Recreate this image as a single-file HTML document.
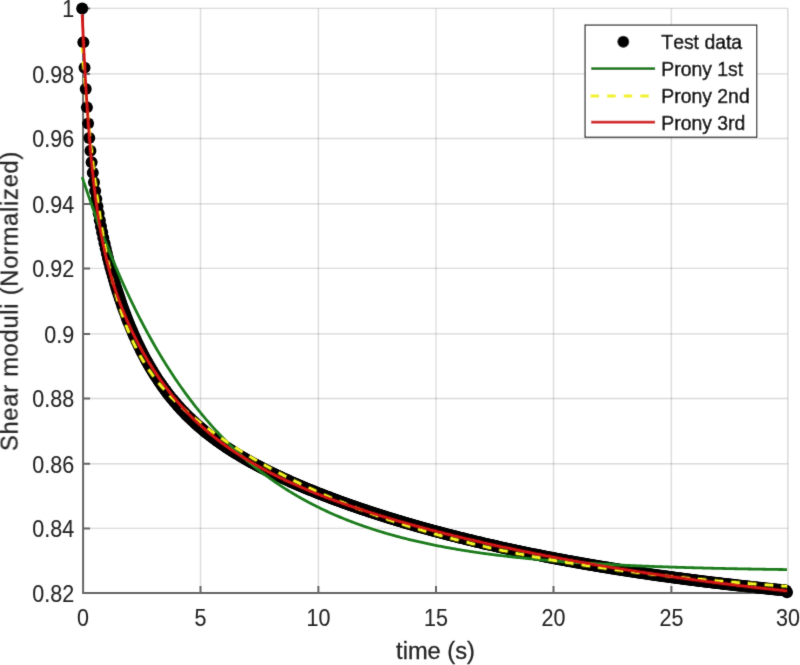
<!DOCTYPE html>
<html><head><meta charset="utf-8"><title>Shear moduli plot</title>
<style>
html,body{margin:0;padding:0;background:#fff;}
body{width:800px;height:665px;overflow:hidden;}
svg{display:block;font-kerning:none;font-family:"Liberation Sans",Arial,sans-serif;}
</style></head><body>
<svg width="800" height="665" viewBox="0 0 800 665">
<defs><filter id="soft" x="0" y="0" width="800" height="665" filterUnits="userSpaceOnUse"><feConvolveMatrix order="3" kernelMatrix="0.0100 0.0800 0.0100 0.0800 0.6400 0.0800 0.0100 0.0800 0.0100" divisor="1" edgeMode="none"/></filter></defs>
<rect width="800" height="665" fill="#fff"/>
<g filter="url(#soft)">
<path d="M83.1 8.4H787.9M83.1 73.9H787.9M83.1 138.5H787.9M83.1 203.9H787.9M83.1 268.4H787.9M83.1 333.9H787.9M83.1 398.5H787.9M83.1 463.7H787.9M83.1 528.4H787.9" stroke="#262626" stroke-opacity="0.16" stroke-width="1.4" fill="none"/>
<path d="M200.5 8.4V593.1M318.4 8.4V593.1M436.0 8.4V593.1M553.5 8.4V593.1M671.4 8.4V593.1M787.9 8.4V593.1" stroke="#262626" stroke-opacity="0.16" stroke-width="1.4" fill="none"/>
<path d="M83.1 8.4V593.1H787.9M83.1 8.4h7M83.1 73.9h7M83.1 138.5h7M83.1 203.9h7M83.1 268.4h7M83.1 333.9h7M83.1 398.5h7M83.1 463.7h7M83.1 528.4h7M200.5 593.1v-7M318.4 593.1v-7M436.0 593.1v-7M553.5 593.1v-7M671.4 593.1v-7M787.9 593.1v-7" stroke="#666666" stroke-width="2" fill="none"/>
<g font-size="21.5" fill="#262626" stroke="#262626" stroke-width="0.1"><text transform="translate(74.2 9.00) scale(1 1.08)" y="7.7" text-anchor="end">1</text><text transform="translate(74.2 74.50) scale(1 1.08)" y="7.7" text-anchor="end">0.98</text><text transform="translate(74.2 139.10) scale(1 1.08)" y="7.7" text-anchor="end">0.96</text><text transform="translate(74.2 204.50) scale(1 1.08)" y="7.7" text-anchor="end">0.94</text><text transform="translate(74.2 269.00) scale(1 1.08)" y="7.7" text-anchor="end">0.92</text><text transform="translate(74.2 334.50) scale(1 1.08)" y="7.7" text-anchor="end">0.9</text><text transform="translate(74.2 399.10) scale(1 1.08)" y="7.7" text-anchor="end">0.88</text><text transform="translate(74.2 464.30) scale(1 1.08)" y="7.7" text-anchor="end">0.86</text><text transform="translate(74.2 529.00) scale(1 1.08)" y="7.7" text-anchor="end">0.84</text><text transform="translate(74.2 593.70) scale(1 1.08)" y="7.7" text-anchor="end">0.82</text><text transform="translate(83.1 617.40) scale(1 1.08)" y="7.7" text-anchor="middle">0</text><text transform="translate(200.5 617.40) scale(1 1.08)" y="7.7" text-anchor="middle">5</text><text transform="translate(318.4 617.40) scale(1 1.08)" y="7.7" text-anchor="middle">10</text><text transform="translate(436.0 617.40) scale(1 1.08)" y="7.7" text-anchor="middle">15</text><text transform="translate(553.5 617.40) scale(1 1.08)" y="7.7" text-anchor="middle">20</text><text transform="translate(671.4 617.40) scale(1 1.08)" y="7.7" text-anchor="middle">25</text><text transform="translate(787.9 617.40) scale(1 1.08)" y="7.7" text-anchor="middle">30</text></g>
<text x="435.5" y="658.8" text-anchor="middle" font-size="23.65" fill="#262626" stroke="#262626" stroke-width="0.3">time (s)</text>
<text transform="translate(17.6 301) rotate(-90)" text-anchor="middle" font-size="23.65" letter-spacing="0.76" fill="#262626" stroke="#262626" stroke-width="0.3">Shear moduli (Normalized)</text>
<g fill="#000"><circle cx="82.20" cy="8.39" r="6.0"/><circle cx="83.37" cy="42.29" r="6.0"/><circle cx="84.55" cy="67.66" r="6.0"/><circle cx="85.72" cy="88.93" r="6.0"/><circle cx="86.90" cy="107.37" r="6.0"/><circle cx="88.07" cy="123.58" r="6.0"/><circle cx="89.25" cy="137.95" r="6.0"/><circle cx="90.42" cy="150.77" r="6.0"/><circle cx="91.60" cy="162.30" r="6.0"/><circle cx="92.77" cy="172.74" r="6.0"/><circle cx="93.95" cy="182.27" r="6.0"/><circle cx="95.12" cy="191.01" r="6.0"/><circle cx="96.30" cy="199.08" r="6.0"/><circle cx="97.47" cy="206.59" r="6.0"/><circle cx="98.65" cy="213.61" r="6.0"/><circle cx="99.82" cy="220.21" r="6.0"/><circle cx="100.99" cy="226.44" r="6.0"/><circle cx="102.17" cy="232.35" r="6.0"/><circle cx="103.34" cy="237.98" r="6.0"/><circle cx="104.52" cy="243.36" r="6.0"/><circle cx="105.69" cy="248.51" r="6.0"/><circle cx="106.87" cy="253.46" r="6.0"/><circle cx="108.04" cy="258.23" r="6.0"/><circle cx="109.22" cy="262.83" r="6.0"/><circle cx="110.39" cy="267.29" r="6.0"/><circle cx="111.57" cy="271.60" r="6.0"/><circle cx="112.74" cy="275.78" r="6.0"/><circle cx="113.92" cy="279.84" r="6.0"/><circle cx="115.09" cy="283.79" r="6.0"/><circle cx="116.26" cy="287.63" r="6.0"/><circle cx="117.44" cy="291.36" r="6.0"/><circle cx="118.61" cy="295.01" r="6.0"/><circle cx="119.79" cy="298.56" r="6.0"/><circle cx="120.96" cy="302.02" r="6.0"/><circle cx="122.14" cy="305.40" r="6.0"/><circle cx="123.31" cy="308.70" r="6.0"/><circle cx="124.49" cy="311.92" r="6.0"/><circle cx="125.66" cy="315.07" r="6.0"/><circle cx="126.84" cy="318.14" r="6.0"/><circle cx="128.01" cy="321.15" r="6.0"/><circle cx="129.19" cy="324.09" r="6.0"/><circle cx="130.36" cy="326.96" r="6.0"/><circle cx="131.54" cy="329.77" r="6.0"/><circle cx="132.71" cy="332.52" r="6.0"/><circle cx="133.88" cy="335.21" r="6.0"/><circle cx="135.06" cy="337.85" r="6.0"/><circle cx="136.23" cy="340.42" r="6.0"/><circle cx="137.41" cy="342.95" r="6.0"/><circle cx="138.58" cy="345.42" r="6.0"/><circle cx="139.76" cy="347.84" r="6.0"/><circle cx="140.93" cy="350.21" r="6.0"/><circle cx="142.11" cy="352.53" r="6.0"/><circle cx="143.28" cy="354.81" r="6.0"/><circle cx="144.46" cy="357.03" r="6.0"/><circle cx="145.63" cy="359.22" r="6.0"/><circle cx="146.81" cy="361.36" r="6.0"/><circle cx="147.98" cy="363.46" r="6.0"/><circle cx="149.16" cy="365.52" r="6.0"/><circle cx="150.33" cy="367.54" r="6.0"/><circle cx="151.50" cy="369.52" r="6.0"/><circle cx="152.68" cy="371.46" r="6.0"/><circle cx="153.85" cy="373.36" r="6.0"/><circle cx="155.03" cy="375.23" r="6.0"/><circle cx="156.20" cy="377.07" r="6.0"/><circle cx="157.38" cy="378.87" r="6.0"/><circle cx="158.55" cy="380.64" r="6.0"/><circle cx="159.73" cy="382.37" r="6.0"/><circle cx="160.90" cy="384.08" r="6.0"/><circle cx="162.08" cy="385.75" r="6.0"/><circle cx="163.25" cy="387.39" r="6.0"/><circle cx="164.43" cy="389.01" r="6.0"/><circle cx="165.60" cy="390.60" r="6.0"/><circle cx="166.77" cy="392.16" r="6.0"/><circle cx="167.95" cy="393.69" r="6.0"/><circle cx="169.12" cy="395.20" r="6.0"/><circle cx="170.30" cy="396.68" r="6.0"/><circle cx="171.47" cy="398.13" r="6.0"/><circle cx="172.65" cy="399.56" r="6.0"/><circle cx="173.82" cy="400.97" r="6.0"/><circle cx="175.00" cy="402.36" r="6.0"/><circle cx="176.17" cy="403.72" r="6.0"/><circle cx="177.35" cy="405.06" r="6.0"/><circle cx="178.52" cy="406.39" r="6.0"/><circle cx="179.70" cy="407.69" r="6.0"/><circle cx="180.87" cy="408.97" r="6.0"/><circle cx="182.05" cy="410.23" r="6.0"/><circle cx="183.22" cy="411.47" r="6.0"/><circle cx="184.39" cy="412.69" r="6.0"/><circle cx="185.57" cy="413.89" r="6.0"/><circle cx="186.74" cy="415.08" r="6.0"/><circle cx="187.92" cy="416.25" r="6.0"/><circle cx="189.09" cy="417.40" r="6.0"/><circle cx="190.27" cy="418.54" r="6.0"/><circle cx="191.44" cy="419.66" r="6.0"/><circle cx="192.62" cy="420.76" r="6.0"/><circle cx="193.79" cy="421.85" r="6.0"/><circle cx="194.97" cy="422.93" r="6.0"/><circle cx="196.14" cy="423.99" r="6.0"/><circle cx="197.32" cy="425.03" r="6.0"/><circle cx="198.49" cy="426.06" r="6.0"/><circle cx="199.66" cy="427.08" r="6.0"/><circle cx="200.84" cy="428.09" r="6.0"/><circle cx="202.01" cy="429.08" r="6.0"/><circle cx="203.19" cy="430.06" r="6.0"/><circle cx="204.36" cy="431.02" r="6.0"/><circle cx="205.54" cy="431.98" r="6.0"/><circle cx="206.71" cy="432.92" r="6.0"/><circle cx="207.89" cy="433.86" r="6.0"/><circle cx="209.06" cy="434.78" r="6.0"/><circle cx="210.24" cy="435.69" r="6.0"/><circle cx="211.41" cy="436.59" r="6.0"/><circle cx="212.59" cy="437.48" r="6.0"/><circle cx="213.76" cy="438.36" r="6.0"/><circle cx="214.94" cy="439.22" r="6.0"/><circle cx="216.11" cy="440.08" r="6.0"/><circle cx="217.28" cy="440.93" r="6.0"/><circle cx="218.46" cy="441.78" r="6.0"/><circle cx="219.63" cy="442.61" r="6.0"/><circle cx="220.81" cy="443.43" r="6.0"/><circle cx="221.98" cy="444.25" r="6.0"/><circle cx="223.16" cy="445.05" r="6.0"/><circle cx="224.33" cy="445.85" r="6.0"/><circle cx="225.51" cy="446.64" r="6.0"/><circle cx="226.68" cy="447.42" r="6.0"/><circle cx="227.86" cy="448.19" r="6.0"/><circle cx="229.03" cy="448.96" r="6.0"/><circle cx="230.21" cy="449.72" r="6.0"/><circle cx="231.38" cy="450.47" r="6.0"/><circle cx="232.56" cy="451.22" r="6.0"/><circle cx="233.73" cy="451.96" r="6.0"/><circle cx="234.90" cy="452.69" r="6.0"/><circle cx="236.08" cy="453.41" r="6.0"/><circle cx="237.25" cy="454.13" r="6.0"/><circle cx="238.43" cy="454.84" r="6.0"/><circle cx="239.60" cy="455.55" r="6.0"/><circle cx="240.78" cy="456.25" r="6.0"/><circle cx="241.95" cy="456.94" r="6.0"/><circle cx="243.13" cy="457.63" r="6.0"/><circle cx="244.30" cy="458.31" r="6.0"/><circle cx="245.48" cy="458.98" r="6.0"/><circle cx="246.65" cy="459.66" r="6.0"/><circle cx="247.83" cy="460.32" r="6.0"/><circle cx="249.00" cy="460.98" r="6.0"/><circle cx="250.17" cy="461.64" r="6.0"/><circle cx="251.35" cy="462.29" r="6.0"/><circle cx="252.52" cy="462.93" r="6.0"/><circle cx="253.70" cy="463.57" r="6.0"/><circle cx="254.87" cy="464.20" r="6.0"/><circle cx="256.05" cy="464.83" r="6.0"/><circle cx="257.22" cy="465.46" r="6.0"/><circle cx="258.40" cy="466.08" r="6.0"/><circle cx="259.57" cy="466.70" r="6.0"/><circle cx="260.75" cy="467.31" r="6.0"/><circle cx="261.92" cy="467.92" r="6.0"/><circle cx="263.10" cy="468.52" r="6.0"/><circle cx="264.27" cy="469.12" r="6.0"/><circle cx="265.45" cy="469.72" r="6.0"/><circle cx="266.62" cy="470.31" r="6.0"/><circle cx="267.79" cy="470.90" r="6.0"/><circle cx="268.97" cy="471.48" r="6.0"/><circle cx="270.14" cy="472.06" r="6.0"/><circle cx="271.32" cy="472.64" r="6.0"/><circle cx="272.49" cy="473.21" r="6.0"/><circle cx="273.67" cy="473.78" r="6.0"/><circle cx="274.84" cy="474.34" r="6.0"/><circle cx="276.02" cy="474.90" r="6.0"/><circle cx="277.19" cy="475.46" r="6.0"/><circle cx="278.37" cy="476.02" r="6.0"/><circle cx="279.54" cy="476.57" r="6.0"/><circle cx="280.72" cy="477.12" r="6.0"/><circle cx="281.89" cy="477.66" r="6.0"/><circle cx="283.07" cy="478.21" r="6.0"/><circle cx="284.24" cy="478.74" r="6.0"/><circle cx="285.41" cy="479.28" r="6.0"/><circle cx="286.59" cy="479.81" r="6.0"/><circle cx="287.76" cy="480.34" r="6.0"/><circle cx="288.94" cy="480.87" r="6.0"/><circle cx="290.11" cy="481.39" r="6.0"/><circle cx="291.29" cy="481.91" r="6.0"/><circle cx="292.46" cy="482.43" r="6.0"/><circle cx="293.64" cy="482.95" r="6.0"/><circle cx="294.81" cy="483.46" r="6.0"/><circle cx="295.99" cy="483.97" r="6.0"/><circle cx="297.16" cy="484.48" r="6.0"/><circle cx="298.34" cy="484.98" r="6.0"/><circle cx="299.51" cy="485.48" r="6.0"/><circle cx="300.68" cy="485.98" r="6.0"/><circle cx="301.86" cy="486.48" r="6.0"/><circle cx="303.03" cy="486.97" r="6.0"/><circle cx="304.21" cy="487.47" r="6.0"/><circle cx="305.38" cy="487.96" r="6.0"/><circle cx="306.56" cy="488.44" r="6.0"/><circle cx="307.73" cy="488.93" r="6.0"/><circle cx="308.91" cy="489.41" r="6.0"/><circle cx="310.08" cy="489.89" r="6.0"/><circle cx="311.26" cy="490.37" r="6.0"/><circle cx="312.43" cy="490.84" r="6.0"/><circle cx="313.61" cy="491.32" r="6.0"/><circle cx="314.78" cy="491.79" r="6.0"/><circle cx="315.96" cy="492.25" r="6.0"/><circle cx="317.13" cy="492.72" r="6.0"/><circle cx="318.30" cy="493.19" r="6.0"/><circle cx="319.48" cy="493.65" r="6.0"/><circle cx="320.65" cy="494.11" r="6.0"/><circle cx="321.83" cy="494.57" r="6.0"/><circle cx="323.00" cy="495.02" r="6.0"/><circle cx="324.18" cy="495.48" r="6.0"/><circle cx="325.35" cy="495.93" r="6.0"/><circle cx="326.53" cy="496.38" r="6.0"/><circle cx="327.70" cy="496.83" r="6.0"/><circle cx="328.88" cy="497.27" r="6.0"/><circle cx="330.05" cy="497.72" r="6.0"/><circle cx="331.23" cy="498.16" r="6.0"/><circle cx="332.40" cy="498.60" r="6.0"/><circle cx="333.58" cy="499.04" r="6.0"/><circle cx="334.75" cy="499.47" r="6.0"/><circle cx="335.92" cy="499.91" r="6.0"/><circle cx="337.10" cy="500.34" r="6.0"/><circle cx="338.27" cy="500.77" r="6.0"/><circle cx="339.45" cy="501.20" r="6.0"/><circle cx="340.62" cy="501.63" r="6.0"/><circle cx="341.80" cy="502.05" r="6.0"/><circle cx="342.97" cy="502.48" r="6.0"/><circle cx="344.15" cy="502.90" r="6.0"/><circle cx="345.32" cy="503.32" r="6.0"/><circle cx="346.50" cy="503.74" r="6.0"/><circle cx="347.67" cy="504.16" r="6.0"/><circle cx="348.85" cy="504.57" r="6.0"/><circle cx="350.02" cy="504.99" r="6.0"/><circle cx="351.19" cy="505.40" r="6.0"/><circle cx="352.37" cy="505.81" r="6.0"/><circle cx="353.54" cy="506.22" r="6.0"/><circle cx="354.72" cy="506.62" r="6.0"/><circle cx="355.89" cy="507.03" r="6.0"/><circle cx="357.07" cy="507.43" r="6.0"/><circle cx="358.24" cy="507.84" r="6.0"/><circle cx="359.42" cy="508.24" r="6.0"/><circle cx="360.59" cy="508.64" r="6.0"/><circle cx="361.77" cy="509.03" r="6.0"/><circle cx="362.94" cy="509.43" r="6.0"/><circle cx="364.12" cy="509.82" r="6.0"/><circle cx="365.29" cy="510.22" r="6.0"/><circle cx="366.47" cy="510.61" r="6.0"/><circle cx="367.64" cy="511.00" r="6.0"/><circle cx="368.81" cy="511.39" r="6.0"/><circle cx="369.99" cy="511.77" r="6.0"/><circle cx="371.16" cy="512.16" r="6.0"/><circle cx="372.34" cy="512.54" r="6.0"/><circle cx="373.51" cy="512.93" r="6.0"/><circle cx="374.69" cy="513.31" r="6.0"/><circle cx="375.86" cy="513.69" r="6.0"/><circle cx="377.04" cy="514.07" r="6.0"/><circle cx="378.21" cy="514.44" r="6.0"/><circle cx="379.39" cy="514.82" r="6.0"/><circle cx="380.56" cy="515.19" r="6.0"/><circle cx="381.74" cy="515.57" r="6.0"/><circle cx="382.91" cy="515.94" r="6.0"/><circle cx="384.09" cy="516.31" r="6.0"/><circle cx="385.26" cy="516.68" r="6.0"/><circle cx="386.43" cy="517.04" r="6.0"/><circle cx="387.61" cy="517.41" r="6.0"/><circle cx="388.78" cy="517.78" r="6.0"/><circle cx="389.96" cy="518.14" r="6.0"/><circle cx="391.13" cy="518.50" r="6.0"/><circle cx="392.31" cy="518.86" r="6.0"/><circle cx="393.48" cy="519.22" r="6.0"/><circle cx="394.66" cy="519.58" r="6.0"/><circle cx="395.83" cy="519.94" r="6.0"/><circle cx="397.01" cy="520.29" r="6.0"/><circle cx="398.18" cy="520.65" r="6.0"/><circle cx="399.36" cy="521.00" r="6.0"/><circle cx="400.53" cy="521.35" r="6.0"/><circle cx="401.70" cy="521.70" r="6.0"/><circle cx="402.88" cy="522.05" r="6.0"/><circle cx="404.05" cy="522.40" r="6.0"/><circle cx="405.23" cy="522.75" r="6.0"/><circle cx="406.40" cy="523.09" r="6.0"/><circle cx="407.58" cy="523.43" r="6.0"/><circle cx="408.75" cy="523.78" r="6.0"/><circle cx="409.93" cy="524.12" r="6.0"/><circle cx="411.10" cy="524.46" r="6.0"/><circle cx="412.28" cy="524.80" r="6.0"/><circle cx="413.45" cy="525.14" r="6.0"/><circle cx="414.63" cy="525.47" r="6.0"/><circle cx="415.80" cy="525.81" r="6.0"/><circle cx="416.98" cy="526.14" r="6.0"/><circle cx="418.15" cy="526.48" r="6.0"/><circle cx="419.32" cy="526.81" r="6.0"/><circle cx="420.50" cy="527.14" r="6.0"/><circle cx="421.67" cy="527.47" r="6.0"/><circle cx="422.85" cy="527.80" r="6.0"/><circle cx="424.02" cy="528.13" r="6.0"/><circle cx="425.20" cy="528.45" r="6.0"/><circle cx="426.37" cy="528.78" r="6.0"/><circle cx="427.55" cy="529.10" r="6.0"/><circle cx="428.72" cy="529.43" r="6.0"/><circle cx="429.90" cy="529.75" r="6.0"/><circle cx="431.07" cy="530.07" r="6.0"/><circle cx="432.25" cy="530.39" r="6.0"/><circle cx="433.42" cy="530.71" r="6.0"/><circle cx="434.59" cy="531.02" r="6.0"/><circle cx="435.77" cy="531.34" r="6.0"/><circle cx="436.94" cy="531.66" r="6.0"/><circle cx="438.12" cy="531.97" r="6.0"/><circle cx="439.29" cy="532.28" r="6.0"/><circle cx="440.47" cy="532.60" r="6.0"/><circle cx="441.64" cy="532.91" r="6.0"/><circle cx="442.82" cy="533.22" r="6.0"/><circle cx="443.99" cy="533.52" r="6.0"/><circle cx="445.17" cy="533.83" r="6.0"/><circle cx="446.34" cy="534.14" r="6.0"/><circle cx="447.52" cy="534.44" r="6.0"/><circle cx="448.69" cy="534.75" r="6.0"/><circle cx="449.87" cy="535.05" r="6.0"/><circle cx="451.04" cy="535.35" r="6.0"/><circle cx="452.21" cy="535.66" r="6.0"/><circle cx="453.39" cy="535.96" r="6.0"/><circle cx="454.56" cy="536.26" r="6.0"/><circle cx="455.74" cy="536.55" r="6.0"/><circle cx="456.91" cy="536.85" r="6.0"/><circle cx="458.09" cy="537.15" r="6.0"/><circle cx="459.26" cy="537.44" r="6.0"/><circle cx="460.44" cy="537.74" r="6.0"/><circle cx="461.61" cy="538.03" r="6.0"/><circle cx="462.79" cy="538.32" r="6.0"/><circle cx="463.96" cy="538.61" r="6.0"/><circle cx="465.14" cy="538.90" r="6.0"/><circle cx="466.31" cy="539.19" r="6.0"/><circle cx="467.49" cy="539.48" r="6.0"/><circle cx="468.66" cy="539.77" r="6.0"/><circle cx="469.83" cy="540.05" r="6.0"/><circle cx="471.01" cy="540.34" r="6.0"/><circle cx="472.18" cy="540.62" r="6.0"/><circle cx="473.36" cy="540.91" r="6.0"/><circle cx="474.53" cy="541.19" r="6.0"/><circle cx="475.71" cy="541.47" r="6.0"/><circle cx="476.88" cy="541.75" r="6.0"/><circle cx="478.06" cy="542.03" r="6.0"/><circle cx="479.23" cy="542.31" r="6.0"/><circle cx="480.41" cy="542.59" r="6.0"/><circle cx="481.58" cy="542.86" r="6.0"/><circle cx="482.76" cy="543.14" r="6.0"/><circle cx="483.93" cy="543.41" r="6.0"/><circle cx="485.10" cy="543.69" r="6.0"/><circle cx="486.28" cy="543.96" r="6.0"/><circle cx="487.45" cy="544.23" r="6.0"/><circle cx="488.63" cy="544.50" r="6.0"/><circle cx="489.80" cy="544.77" r="6.0"/><circle cx="490.98" cy="545.04" r="6.0"/><circle cx="492.15" cy="545.31" r="6.0"/><circle cx="493.33" cy="545.58" r="6.0"/><circle cx="494.50" cy="545.84" r="6.0"/><circle cx="495.68" cy="546.11" r="6.0"/><circle cx="496.85" cy="546.37" r="6.0"/><circle cx="498.03" cy="546.64" r="6.0"/><circle cx="499.20" cy="546.90" r="6.0"/><circle cx="500.38" cy="547.16" r="6.0"/><circle cx="501.55" cy="547.42" r="6.0"/><circle cx="502.72" cy="547.68" r="6.0"/><circle cx="503.90" cy="547.94" r="6.0"/><circle cx="505.07" cy="548.20" r="6.0"/><circle cx="506.25" cy="548.46" r="6.0"/><circle cx="507.42" cy="548.71" r="6.0"/><circle cx="508.60" cy="548.97" r="6.0"/><circle cx="509.77" cy="549.22" r="6.0"/><circle cx="510.95" cy="549.48" r="6.0"/><circle cx="512.12" cy="549.73" r="6.0"/><circle cx="513.30" cy="549.98" r="6.0"/><circle cx="514.47" cy="550.23" r="6.0"/><circle cx="515.65" cy="550.48" r="6.0"/><circle cx="516.82" cy="550.73" r="6.0"/><circle cx="518.00" cy="550.98" r="6.0"/><circle cx="519.17" cy="551.23" r="6.0"/><circle cx="520.34" cy="551.48" r="6.0"/><circle cx="521.52" cy="551.72" r="6.0"/><circle cx="522.69" cy="551.97" r="6.0"/><circle cx="523.87" cy="552.21" r="6.0"/><circle cx="525.04" cy="552.46" r="6.0"/><circle cx="526.22" cy="552.70" r="6.0"/><circle cx="527.39" cy="552.94" r="6.0"/><circle cx="528.57" cy="553.18" r="6.0"/><circle cx="529.74" cy="553.43" r="6.0"/><circle cx="530.92" cy="553.66" r="6.0"/><circle cx="532.09" cy="553.90" r="6.0"/><circle cx="533.27" cy="554.14" r="6.0"/><circle cx="534.44" cy="554.38" r="6.0"/><circle cx="535.61" cy="554.62" r="6.0"/><circle cx="536.79" cy="554.85" r="6.0"/><circle cx="537.96" cy="555.09" r="6.0"/><circle cx="539.14" cy="555.32" r="6.0"/><circle cx="540.31" cy="555.55" r="6.0"/><circle cx="541.49" cy="555.79" r="6.0"/><circle cx="542.66" cy="556.02" r="6.0"/><circle cx="543.84" cy="556.25" r="6.0"/><circle cx="545.01" cy="556.48" r="6.0"/><circle cx="546.19" cy="556.71" r="6.0"/><circle cx="547.36" cy="556.94" r="6.0"/><circle cx="548.54" cy="557.16" r="6.0"/><circle cx="549.71" cy="557.39" r="6.0"/><circle cx="550.89" cy="557.62" r="6.0"/><circle cx="552.06" cy="557.84" r="6.0"/><circle cx="553.23" cy="558.07" r="6.0"/><circle cx="554.41" cy="558.29" r="6.0"/><circle cx="555.58" cy="558.51" r="6.0"/><circle cx="556.76" cy="558.74" r="6.0"/><circle cx="557.93" cy="558.96" r="6.0"/><circle cx="559.11" cy="559.18" r="6.0"/><circle cx="560.28" cy="559.40" r="6.0"/><circle cx="561.46" cy="559.62" r="6.0"/><circle cx="562.63" cy="559.84" r="6.0"/><circle cx="563.81" cy="560.06" r="6.0"/><circle cx="564.98" cy="560.27" r="6.0"/><circle cx="566.16" cy="560.49" r="6.0"/><circle cx="567.33" cy="560.71" r="6.0"/><circle cx="568.51" cy="560.92" r="6.0"/><circle cx="569.68" cy="561.14" r="6.0"/><circle cx="570.85" cy="561.35" r="6.0"/><circle cx="572.03" cy="561.56" r="6.0"/><circle cx="573.20" cy="561.77" r="6.0"/><circle cx="574.38" cy="561.99" r="6.0"/><circle cx="575.55" cy="562.20" r="6.0"/><circle cx="576.73" cy="562.41" r="6.0"/><circle cx="577.90" cy="562.62" r="6.0"/><circle cx="579.08" cy="562.82" r="6.0"/><circle cx="580.25" cy="563.03" r="6.0"/><circle cx="581.43" cy="563.24" r="6.0"/><circle cx="582.60" cy="563.45" r="6.0"/><circle cx="583.78" cy="563.65" r="6.0"/><circle cx="584.95" cy="563.86" r="6.0"/><circle cx="586.12" cy="564.06" r="6.0"/><circle cx="587.30" cy="564.26" r="6.0"/><circle cx="588.47" cy="564.47" r="6.0"/><circle cx="589.65" cy="564.67" r="6.0"/><circle cx="590.82" cy="564.87" r="6.0"/><circle cx="592.00" cy="565.07" r="6.0"/><circle cx="593.17" cy="565.27" r="6.0"/><circle cx="594.35" cy="565.47" r="6.0"/><circle cx="595.52" cy="565.67" r="6.0"/><circle cx="596.70" cy="565.87" r="6.0"/><circle cx="597.87" cy="566.07" r="6.0"/><circle cx="599.05" cy="566.26" r="6.0"/><circle cx="600.22" cy="566.46" r="6.0"/><circle cx="601.40" cy="566.66" r="6.0"/><circle cx="602.57" cy="566.85" r="6.0"/><circle cx="603.74" cy="567.05" r="6.0"/><circle cx="604.92" cy="567.24" r="6.0"/><circle cx="606.09" cy="567.43" r="6.0"/><circle cx="607.27" cy="567.62" r="6.0"/><circle cx="608.44" cy="567.82" r="6.0"/><circle cx="609.62" cy="568.01" r="6.0"/><circle cx="610.79" cy="568.20" r="6.0"/><circle cx="611.97" cy="568.39" r="6.0"/><circle cx="613.14" cy="568.58" r="6.0"/><circle cx="614.32" cy="568.77" r="6.0"/><circle cx="615.49" cy="568.95" r="6.0"/><circle cx="616.67" cy="569.14" r="6.0"/><circle cx="617.84" cy="569.33" r="6.0"/><circle cx="619.02" cy="569.51" r="6.0"/><circle cx="620.19" cy="569.70" r="6.0"/><circle cx="621.36" cy="569.88" r="6.0"/><circle cx="622.54" cy="570.07" r="6.0"/><circle cx="623.71" cy="570.25" r="6.0"/><circle cx="624.89" cy="570.43" r="6.0"/><circle cx="626.06" cy="570.62" r="6.0"/><circle cx="627.24" cy="570.80" r="6.0"/><circle cx="628.41" cy="570.98" r="6.0"/><circle cx="629.59" cy="571.16" r="6.0"/><circle cx="630.76" cy="571.34" r="6.0"/><circle cx="631.94" cy="571.52" r="6.0"/><circle cx="633.11" cy="571.70" r="6.0"/><circle cx="634.29" cy="571.87" r="6.0"/><circle cx="635.46" cy="572.05" r="6.0"/><circle cx="636.63" cy="572.23" r="6.0"/><circle cx="637.81" cy="572.40" r="6.0"/><circle cx="638.98" cy="572.58" r="6.0"/><circle cx="640.16" cy="572.75" r="6.0"/><circle cx="641.33" cy="572.93" r="6.0"/><circle cx="642.51" cy="573.10" r="6.0"/><circle cx="643.68" cy="573.28" r="6.0"/><circle cx="644.86" cy="573.45" r="6.0"/><circle cx="646.03" cy="573.62" r="6.0"/><circle cx="647.21" cy="573.79" r="6.0"/><circle cx="648.38" cy="573.96" r="6.0"/><circle cx="649.56" cy="574.13" r="6.0"/><circle cx="650.73" cy="574.30" r="6.0"/><circle cx="651.91" cy="574.47" r="6.0"/><circle cx="653.08" cy="574.64" r="6.0"/><circle cx="654.25" cy="574.81" r="6.0"/><circle cx="655.43" cy="574.98" r="6.0"/><circle cx="656.60" cy="575.14" r="6.0"/><circle cx="657.78" cy="575.31" r="6.0"/><circle cx="658.95" cy="575.48" r="6.0"/><circle cx="660.13" cy="575.64" r="6.0"/><circle cx="661.30" cy="575.81" r="6.0"/><circle cx="662.48" cy="575.97" r="6.0"/><circle cx="663.65" cy="576.13" r="6.0"/><circle cx="664.83" cy="576.30" r="6.0"/><circle cx="666.00" cy="576.46" r="6.0"/><circle cx="667.18" cy="576.62" r="6.0"/><circle cx="668.35" cy="576.78" r="6.0"/><circle cx="669.52" cy="576.94" r="6.0"/><circle cx="670.70" cy="577.10" r="6.0"/><circle cx="671.87" cy="577.26" r="6.0"/><circle cx="673.05" cy="577.42" r="6.0"/><circle cx="674.22" cy="577.58" r="6.0"/><circle cx="675.40" cy="577.74" r="6.0"/><circle cx="676.57" cy="577.90" r="6.0"/><circle cx="677.75" cy="578.05" r="6.0"/><circle cx="678.92" cy="578.21" r="6.0"/><circle cx="680.10" cy="578.37" r="6.0"/><circle cx="681.27" cy="578.52" r="6.0"/><circle cx="682.45" cy="578.68" r="6.0"/><circle cx="683.62" cy="578.83" r="6.0"/><circle cx="684.80" cy="578.98" r="6.0"/><circle cx="685.97" cy="579.14" r="6.0"/><circle cx="687.14" cy="579.29" r="6.0"/><circle cx="688.32" cy="579.44" r="6.0"/><circle cx="689.49" cy="579.59" r="6.0"/><circle cx="690.67" cy="579.75" r="6.0"/><circle cx="691.84" cy="579.90" r="6.0"/><circle cx="693.02" cy="580.05" r="6.0"/><circle cx="694.19" cy="580.20" r="6.0"/><circle cx="695.37" cy="580.35" r="6.0"/><circle cx="696.54" cy="580.49" r="6.0"/><circle cx="697.72" cy="580.64" r="6.0"/><circle cx="698.89" cy="580.79" r="6.0"/><circle cx="700.07" cy="580.94" r="6.0"/><circle cx="701.24" cy="581.08" r="6.0"/><circle cx="702.42" cy="581.23" r="6.0"/><circle cx="703.59" cy="581.38" r="6.0"/><circle cx="704.76" cy="581.52" r="6.0"/><circle cx="705.94" cy="581.67" r="6.0"/><circle cx="707.11" cy="581.81" r="6.0"/><circle cx="708.29" cy="581.95" r="6.0"/><circle cx="709.46" cy="582.10" r="6.0"/><circle cx="710.64" cy="582.24" r="6.0"/><circle cx="711.81" cy="582.38" r="6.0"/><circle cx="712.99" cy="582.53" r="6.0"/><circle cx="714.16" cy="582.67" r="6.0"/><circle cx="715.34" cy="582.81" r="6.0"/><circle cx="716.51" cy="582.95" r="6.0"/><circle cx="717.69" cy="583.09" r="6.0"/><circle cx="718.86" cy="583.23" r="6.0"/><circle cx="720.03" cy="583.37" r="6.0"/><circle cx="721.21" cy="583.51" r="6.0"/><circle cx="722.38" cy="583.64" r="6.0"/><circle cx="723.56" cy="583.78" r="6.0"/><circle cx="724.73" cy="583.92" r="6.0"/><circle cx="725.91" cy="584.05" r="6.0"/><circle cx="727.08" cy="584.19" r="6.0"/><circle cx="728.26" cy="584.33" r="6.0"/><circle cx="729.43" cy="584.46" r="6.0"/><circle cx="730.61" cy="584.60" r="6.0"/><circle cx="731.78" cy="584.73" r="6.0"/><circle cx="732.96" cy="584.87" r="6.0"/><circle cx="734.13" cy="585.00" r="6.0"/><circle cx="735.31" cy="585.13" r="6.0"/><circle cx="736.48" cy="585.26" r="6.0"/><circle cx="737.65" cy="585.40" r="6.0"/><circle cx="738.83" cy="585.53" r="6.0"/><circle cx="740.00" cy="585.66" r="6.0"/><circle cx="741.18" cy="585.79" r="6.0"/><circle cx="742.35" cy="585.92" r="6.0"/><circle cx="743.53" cy="586.05" r="6.0"/><circle cx="744.70" cy="586.18" r="6.0"/><circle cx="745.88" cy="586.31" r="6.0"/><circle cx="747.05" cy="586.44" r="6.0"/><circle cx="748.23" cy="586.57" r="6.0"/><circle cx="749.40" cy="586.69" r="6.0"/><circle cx="750.58" cy="586.82" r="6.0"/><circle cx="751.75" cy="586.95" r="6.0"/><circle cx="752.93" cy="587.08" r="6.0"/><circle cx="754.10" cy="587.20" r="6.0"/><circle cx="755.27" cy="587.33" r="6.0"/><circle cx="756.45" cy="587.45" r="6.0"/><circle cx="757.62" cy="587.58" r="6.0"/><circle cx="758.80" cy="587.70" r="6.0"/><circle cx="759.97" cy="587.83" r="6.0"/><circle cx="761.15" cy="587.95" r="6.0"/><circle cx="762.32" cy="588.07" r="6.0"/><circle cx="763.50" cy="588.19" r="6.0"/><circle cx="764.67" cy="588.32" r="6.0"/><circle cx="765.85" cy="588.44" r="6.0"/><circle cx="767.02" cy="588.56" r="6.0"/><circle cx="768.20" cy="588.68" r="6.0"/><circle cx="769.37" cy="588.80" r="6.0"/><circle cx="770.54" cy="588.92" r="6.0"/><circle cx="771.72" cy="589.04" r="6.0"/><circle cx="772.89" cy="589.16" r="6.0"/><circle cx="774.07" cy="589.28" r="6.0"/><circle cx="775.24" cy="589.40" r="6.0"/><circle cx="776.42" cy="589.52" r="6.0"/><circle cx="777.59" cy="589.64" r="6.0"/><circle cx="778.77" cy="589.75" r="6.0"/><circle cx="779.94" cy="589.87" r="6.0"/><circle cx="781.12" cy="589.99" r="6.0"/><circle cx="782.29" cy="590.10" r="6.0"/><circle cx="783.47" cy="590.22" r="6.0"/><circle cx="784.64" cy="590.33" r="6.0"/><circle cx="785.82" cy="590.45" r="6.0"/><circle cx="786.99" cy="592.26" r="6.0"/></g>
<polyline points="82.20,177.11 82.28,177.34 82.36,177.58 82.44,177.82 82.51,178.06 82.59,178.30 82.67,178.53 82.75,178.77 82.83,179.01 82.91,179.25 82.99,179.48 83.06,179.72 83.14,179.96 83.22,180.19 83.30,180.43 83.38,180.67 83.46,180.90 83.54,181.14 83.61,181.37 83.69,181.61 83.77,181.85 83.85,182.08 83.93,182.32 84.01,182.55 84.09,182.79 84.16,183.02 84.24,183.26 84.32,183.49 84.40,183.73 84.48,183.96 84.56,184.19 84.64,184.43 84.71,184.66 84.79,184.90 84.87,185.13 84.95,185.36 85.03,185.60 85.11,185.83 85.19,186.06 85.26,186.30 85.34,186.53 85.42,186.76 85.50,186.99 85.58,187.23 85.66,187.46 85.74,187.69 85.81,187.92 85.89,188.15 85.97,188.39 86.05,188.62 86.13,188.85 86.21,189.08 86.29,189.31 86.36,189.54 86.44,189.77 86.52,190.00 86.60,190.23 86.68,190.46 86.76,190.69 86.84,190.92 86.91,191.15 86.99,191.38 87.07,191.61 87.15,191.84 87.23,192.07 87.31,192.30 87.39,192.53 87.46,192.76 87.54,192.99 87.62,193.22 87.70,193.45 87.78,193.67 87.86,193.90 87.94,194.13 88.01,194.36 88.09,194.59 88.17,194.81 88.25,195.04 88.33,195.27 88.41,195.50 88.49,195.72 88.56,195.95 88.64,196.18 88.72,196.41 88.80,196.63 88.88,196.86 88.96,197.08 89.04,197.31 89.11,197.54 89.19,197.76 89.27,197.99 89.35,198.21 89.43,198.44 89.51,198.67 89.59,198.89 89.66,199.12 89.74,199.34 89.82,199.57 89.90,199.79 89.98,200.02 90.06,200.24 90.14,200.46 90.21,200.69 90.29,200.91 90.37,201.14 90.45,201.36 90.53,201.58 90.61,201.81 90.69,202.03 90.76,202.25 90.84,202.48 90.92,202.70 91.00,202.92 91.08,203.15 91.16,203.37 91.24,203.59 91.31,203.81 91.39,204.04 91.47,204.26 91.55,204.48 91.63,204.70 91.71,204.92 91.79,205.14 91.86,205.37 91.94,205.59 92.02,205.81 92.10,206.03 92.18,206.25 92.26,206.47 92.34,206.69 92.41,206.91 92.49,207.13 92.57,207.35 92.65,207.57 92.73,207.79 92.81,208.01 92.89,208.23 92.96,208.45 93.04,208.67 93.12,208.89 93.20,209.11 93.28,209.33 93.36,209.55 93.44,209.77 93.51,209.98 93.59,210.20 93.67,210.42 93.75,210.64 93.83,210.86 93.91,211.07 93.99,211.29 94.06,211.51 94.14,211.73 94.22,211.95 94.30,212.16 94.38,212.38 94.46,212.60 94.54,212.81 94.61,213.03 94.69,213.25 94.77,213.46 94.85,213.68 94.93,213.90 95.01,214.11 95.09,214.33 95.16,214.54 95.24,214.76 95.32,214.98 95.40,215.19 95.48,215.41 95.56,215.62 95.64,215.84 95.71,216.05 95.79,216.27 95.87,216.48 95.95,216.70 96.03,216.91 96.11,217.12 96.19,217.34 96.26,217.55 96.34,217.77 96.42,217.98 96.50,218.19 96.58,218.41 96.66,218.62 96.74,218.83 96.81,219.05 96.89,219.26 96.97,219.47 97.05,219.68 97.13,219.90 97.21,220.11 97.29,220.32 97.36,220.53 97.44,220.75 97.52,220.96 97.60,221.17 97.68,221.38 97.76,221.59 97.84,221.80 97.91,222.02 97.99,222.23 98.07,222.44 98.15,222.65 98.23,222.86 98.31,223.07 98.39,223.28 98.46,223.49 98.54,223.70 98.62,223.91 98.70,224.12 98.78,224.33 98.86,224.54 98.94,224.75 99.01,224.96 99.09,225.17 99.17,225.38 99.25,225.59 99.33,225.80 99.41,226.01 99.49,226.22 99.56,226.42 99.64,226.63 99.72,226.84 99.80,227.05 99.88,227.26 99.96,227.47 100.04,227.67 100.11,227.88 100.19,228.09 100.27,228.30 100.35,228.50 100.43,228.71 100.51,228.92 100.59,229.13 100.66,229.33 100.74,229.54 100.82,229.75 100.90,229.95 100.98,230.16 101.06,230.36 101.14,230.57 101.21,230.78 101.29,230.98 101.37,231.19 101.45,231.39 101.53,231.60 101.61,231.80 101.69,232.01 101.76,232.22 101.84,232.42 101.92,232.63 102.00,232.83 102.08,233.03 102.16,233.24 102.24,233.44 102.31,233.65 102.39,233.85 102.47,234.06 102.55,234.26 102.63,234.46 102.71,234.67 102.79,234.87 102.86,235.07 102.94,235.28 103.02,235.48 103.10,235.68 103.18,235.89 103.26,236.09 103.34,236.29 103.41,236.49 103.49,236.70 103.57,236.90 103.65,237.10 103.73,237.30 103.81,237.51 103.89,237.71 103.96,237.91 104.04,238.11 104.12,238.31 104.20,238.51 104.28,238.71 104.36,238.92 104.44,239.12 104.51,239.32 104.59,239.52 104.67,239.72 104.75,239.92 104.83,240.12 104.91,240.32 104.99,240.52 105.06,240.72 105.14,240.92 105.22,241.12 105.30,241.32 105.38,241.52 105.46,241.72 105.54,241.92 105.61,242.12 105.69,242.32 106.83,245.18 107.97,248.03 109.11,250.84 110.24,253.64 111.38,256.41 112.52,259.15 113.65,261.87 114.79,264.57 115.93,267.24 117.07,269.89 118.20,272.52 119.34,275.12 120.48,277.71 121.62,280.27 122.75,282.80 123.89,285.32 125.03,287.81 126.17,290.28 127.30,292.73 128.44,295.16 129.58,297.57 130.72,299.95 131.85,302.32 132.99,304.66 134.13,306.99 135.27,309.29 136.40,311.57 137.54,313.84 138.68,316.08 139.81,318.31 140.95,320.51 142.09,322.70 143.23,324.87 144.36,327.01 145.50,329.14 146.64,331.25 147.78,333.35 148.91,335.42 150.05,337.48 151.19,339.52 152.33,341.54 153.46,343.54 154.60,345.52 155.74,347.49 156.88,349.44 158.01,351.38 159.15,353.29 160.29,355.19 161.43,357.08 162.56,358.95 163.70,360.80 164.84,362.63 165.97,364.45 167.11,366.25 168.25,368.04 169.39,369.81 170.52,371.57 171.66,373.31 172.80,375.04 173.94,376.75 175.07,378.44 176.21,380.12 177.35,381.79 178.49,383.44 179.62,385.08 180.76,386.70 181.90,388.31 183.04,389.91 184.17,391.49 185.31,393.06 186.45,394.61 187.59,396.15 188.72,397.68 189.86,399.19 191.00,400.69 192.13,402.18 193.27,403.65 194.41,405.11 195.55,406.56 196.68,408.00 197.82,409.42 198.96,410.83 200.10,412.23 201.23,413.62 202.37,414.99 203.51,416.36 204.65,417.71 205.78,419.05 206.92,420.37 208.06,421.69 209.20,422.99 210.33,424.29 211.47,425.57 212.61,426.84 213.75,428.10 214.88,429.35 216.02,430.58 217.16,431.81 218.29,433.03 219.43,434.23 220.57,435.43 221.71,436.61 222.84,437.78 223.98,438.95 225.12,440.10 226.26,441.25 227.39,442.38 228.53,443.50 229.67,444.62 230.81,445.72 231.94,446.82 233.08,447.90 234.22,448.98 235.36,450.04 236.49,451.10 237.63,452.15 238.77,453.19 239.91,454.22 241.04,455.24 242.18,456.25 243.32,457.25 244.45,458.25 245.59,459.23 246.73,460.21 247.87,461.18 249.00,462.14 250.14,463.09 251.28,464.03 252.42,464.97 253.55,465.90 254.69,466.81 255.83,467.73 256.97,468.63 258.10,469.52 259.24,470.41 260.38,471.29 261.52,472.16 262.65,473.03 263.79,473.88 264.93,474.73 266.07,475.57 267.20,476.41 268.34,477.24 269.48,478.06 270.61,478.87 271.75,479.68 272.89,480.47 274.03,481.27 275.16,482.05 276.30,482.83 277.44,483.60 278.58,484.36 279.71,485.12 280.85,485.87 281.99,486.62 283.13,487.36 284.26,488.09 285.40,488.81 286.54,489.53 287.68,490.25 288.81,490.95 289.95,491.65 291.09,492.35 292.23,493.04 293.36,493.72 294.50,494.40 295.64,495.07 296.77,495.73 297.91,496.39 299.05,497.04 300.19,497.69 301.32,498.33 302.46,498.97 303.60,499.60 304.74,500.22 305.87,500.84 307.01,501.46 308.15,502.07 309.29,502.67 310.42,503.27 311.56,503.86 312.70,504.45 313.84,505.03 314.97,505.61 316.11,506.18 317.25,506.75 318.39,507.31 319.52,507.87 320.66,508.42 321.80,508.97 322.93,509.52 324.07,510.06 325.21,510.59 326.35,511.12 327.48,511.64 328.62,512.16 329.76,512.68 330.90,513.19 332.03,513.70 333.17,514.20 334.31,514.70 335.45,515.19 336.58,515.68 337.72,516.16 338.86,516.65 340.00,517.12 341.13,517.59 342.27,518.06 343.41,518.53 344.55,518.99 345.68,519.44 346.82,519.90 347.96,520.34 349.09,520.79 350.23,521.23 351.37,521.67 352.51,522.10 353.64,522.53 354.78,522.95 355.92,523.37 357.06,523.79 358.19,524.21 359.33,524.62 360.47,525.02 361.61,525.43 362.74,525.83 363.88,526.22 365.02,526.62 366.16,527.01 367.29,527.39 368.43,527.78 369.57,528.16 370.71,528.53 371.84,528.91 372.98,529.27 374.12,529.64 375.25,530.00 376.39,530.36 377.53,530.72 378.67,531.08 379.80,531.43 380.94,531.77 382.08,532.12 383.22,532.46 384.35,532.80 385.49,533.14 386.63,533.47 387.77,533.80 388.90,534.12 390.04,534.45 391.18,534.77 392.32,535.09 393.45,535.40 394.59,535.72 395.73,536.03 396.87,536.34 398.00,536.64 399.14,536.94 400.28,537.24 401.41,537.54 402.55,537.83 403.69,538.13 404.83,538.42 405.96,538.70 407.10,538.99 408.24,539.27 409.38,539.55 410.51,539.83 411.65,540.10 412.79,540.37 413.93,540.64 415.06,540.91 416.20,541.17 417.34,541.44 418.48,541.70 419.61,541.96 420.75,542.21 421.89,542.47 423.02,542.72 424.16,542.97 425.30,543.21 426.44,543.46 427.57,543.70 428.71,543.94 429.85,544.18 430.99,544.42 432.12,544.65 433.26,544.88 434.40,545.11 435.54,545.34 436.67,545.57 437.81,545.79 438.95,546.02 440.09,546.24 441.22,546.46 442.36,546.67 443.50,546.89 444.64,547.10 445.77,547.31 446.91,547.52 448.05,547.73 449.18,547.93 450.32,548.14 451.46,548.34 452.60,548.54 453.73,548.74 454.87,548.94 456.01,549.13 457.15,549.32 458.28,549.52 459.42,549.71 460.56,549.89 461.70,550.08 462.83,550.27 463.97,550.45 465.11,550.63 466.25,550.81 467.38,550.99 468.52,551.17 469.66,551.34 470.80,551.52 471.93,551.69 473.07,551.86 474.21,552.03 475.34,552.20 476.48,552.37 477.62,552.53 478.76,552.70 479.89,552.86 481.03,553.02 482.17,553.18 483.31,553.34 484.44,553.49 485.58,553.65 486.72,553.80 487.86,553.96 488.99,554.11 490.13,554.26 491.27,554.41 492.41,554.55 493.54,554.70 494.68,554.84 495.82,554.99 496.96,555.13 498.09,555.27 499.23,555.41 500.37,555.55 501.50,555.69 502.64,555.82 503.78,555.96 504.92,556.09 506.05,556.23 507.19,556.36 508.33,556.49 509.47,556.62 510.60,556.74 511.74,556.87 512.88,557.00 514.02,557.12 515.15,557.25 516.29,557.37 517.43,557.49 518.57,557.61 519.70,557.73 520.84,557.85 521.98,557.97 523.12,558.08 524.25,558.20 525.39,558.31 526.53,558.43 527.66,558.54 528.80,558.65 529.94,558.76 531.08,558.87 532.21,558.98 533.35,559.09 534.49,559.19 535.63,559.30 536.76,559.40 537.90,559.51 539.04,559.61 540.18,559.71 541.31,559.81 542.45,559.91 543.59,560.01 544.73,560.11 545.86,560.21 547.00,560.31 548.14,560.40 549.28,560.50 550.41,560.59 551.55,560.69 552.69,560.78 553.82,560.87 554.96,560.96 556.10,561.05 557.24,561.14 558.37,561.23 559.51,561.32 560.65,561.41 561.79,561.49 562.92,561.58 564.06,561.66 565.20,561.75 566.34,561.83 567.47,561.91 568.61,561.99 569.75,562.08 570.89,562.16 572.02,562.24 573.16,562.32 574.30,562.39 575.44,562.47 576.57,562.55 577.71,562.63 578.85,562.70 579.98,562.78 581.12,562.85 582.26,562.93 583.40,563.00 584.53,563.07 585.67,563.14 586.81,563.21 587.95,563.28 589.08,563.35 590.22,563.42 591.36,563.49 592.50,563.56 593.63,563.63 594.77,563.70 595.91,563.76 597.05,563.83 598.18,563.89 599.32,563.96 600.46,564.02 601.60,564.09 602.73,564.15 603.87,564.21 605.01,564.27 606.14,564.34 607.28,564.40 608.42,564.46 609.56,564.52 610.69,564.58 611.83,564.63 612.97,564.69 614.11,564.75 615.24,564.81 616.38,564.87 617.52,564.92 618.66,564.98 619.79,565.03 620.93,565.09 622.07,565.14 623.21,565.20 624.34,565.25 625.48,565.30 626.62,565.35 627.76,565.41 628.89,565.46 630.03,565.51 631.17,565.56 632.30,565.61 633.44,565.66 634.58,565.71 635.72,565.76 636.85,565.81 637.99,565.85 639.13,565.90 640.27,565.95 641.40,566.00 642.54,566.04 643.68,566.09 644.82,566.13 645.95,566.18 647.09,566.22 648.23,566.27 649.37,566.31 650.50,566.36 651.64,566.40 652.78,566.44 653.92,566.49 655.05,566.53 656.19,566.57 657.33,566.61 658.46,566.65 659.60,566.69 660.74,566.73 661.88,566.77 663.01,566.81 664.15,566.85 665.29,566.89 666.43,566.93 667.56,566.97 668.70,567.01 669.84,567.04 670.98,567.08 672.11,567.12 673.25,567.15 674.39,567.19 675.53,567.23 676.66,567.26 677.80,567.30 678.94,567.33 680.08,567.37 681.21,567.40 682.35,567.44 683.49,567.47 684.62,567.50 685.76,567.54 686.90,567.57 688.04,567.60 689.17,567.64 690.31,567.67 691.45,567.70 692.59,567.73 693.72,567.76 694.86,567.79 696.00,567.82 697.14,567.85 698.27,567.88 699.41,567.91 700.55,567.94 701.69,567.97 702.82,568.00 703.96,568.03 705.10,568.06 706.24,568.09 707.37,568.12 708.51,568.15 709.65,568.17 710.78,568.20 711.92,568.23 713.06,568.25 714.20,568.28 715.33,568.31 716.47,568.33 717.61,568.36 718.75,568.39 719.88,568.41 721.02,568.44 722.16,568.46 723.30,568.49 724.43,568.51 725.57,568.54 726.71,568.56 727.85,568.58 728.98,568.61 730.12,568.63 731.26,568.66 732.40,568.68 733.53,568.70 734.67,568.73 735.81,568.75 736.94,568.77 738.08,568.79 739.22,568.81 740.36,568.84 741.49,568.86 742.63,568.88 743.77,568.90 744.91,568.92 746.04,568.94 747.18,568.96 748.32,568.98 749.46,569.00 750.59,569.02 751.73,569.04 752.87,569.06 754.01,569.08 755.14,569.10 756.28,569.12 757.42,569.14 758.56,569.16 759.69,569.18 760.83,569.20 761.97,569.22 763.10,569.24 764.24,569.25 765.38,569.27 766.52,569.29 767.65,569.31 768.79,569.33 769.93,569.34 771.07,569.36 772.20,569.38 773.34,569.39 774.48,569.41 775.62,569.43 776.75,569.44 777.89,569.46 779.03,569.48 780.17,569.49 781.30,569.51 782.44,569.52 783.58,569.54 784.72,569.56 785.85,569.57 786.99,569.59" stroke="#1c7c1c" stroke-width="2.8" fill="none"/>
<polyline points="82.20,47.54 82.28,48.59 82.36,49.63 82.44,50.68 82.51,51.72 82.59,52.75 82.67,53.79 82.75,54.82 82.83,55.84 82.91,56.87 82.99,57.89 83.06,58.90 83.14,59.92 83.22,60.93 83.30,61.93 83.38,62.94 83.46,63.94 83.54,64.93 83.61,65.92 83.69,66.91 83.77,67.90 83.85,68.88 83.93,69.86 84.01,70.84 84.09,71.82 84.16,72.79 84.24,73.75 84.32,74.72 84.40,75.68 84.48,76.64 84.56,77.59 84.64,78.54 84.71,79.49 84.79,80.44 84.87,81.38 84.95,82.32 85.03,83.25 85.11,84.19 85.19,85.11 85.26,86.04 85.34,86.97 85.42,87.89 85.50,88.80 85.58,89.72 85.66,90.63 85.74,91.54 85.81,92.44 85.89,93.35 85.97,94.25 86.05,95.14 86.13,96.04 86.21,96.93 86.29,97.82 86.36,98.70 86.44,99.58 86.52,100.46 86.60,101.34 86.68,102.21 86.76,103.08 86.84,103.95 86.91,104.82 86.99,105.68 87.07,106.54 87.15,107.40 87.23,108.25 87.31,109.10 87.39,109.95 87.46,110.80 87.54,111.64 87.62,112.48 87.70,113.32 87.78,114.15 87.86,114.98 87.94,115.81 88.01,116.64 88.09,117.46 88.17,118.28 88.25,119.10 88.33,119.92 88.41,120.73 88.49,121.54 88.56,122.35 88.64,123.16 88.72,123.96 88.80,124.76 88.88,125.56 88.96,126.35 89.04,127.14 89.11,127.93 89.19,128.72 89.27,129.51 89.35,130.29 89.43,131.07 89.51,131.85 89.59,132.62 89.66,133.39 89.74,134.16 89.82,134.93 89.90,135.70 89.98,136.46 90.06,137.22 90.14,137.98 90.21,138.73 90.29,139.48 90.37,140.23 90.45,140.98 90.53,141.73 90.61,142.47 90.69,143.21 90.76,143.95 90.84,144.68 90.92,145.42 91.00,146.15 91.08,146.88 91.16,147.60 91.24,148.33 91.31,149.05 91.39,149.77 91.47,150.49 91.55,151.20 91.63,151.91 91.71,152.62 91.79,153.33 91.86,154.04 91.94,154.74 92.02,155.44 92.10,156.14 92.18,156.84 92.26,157.53 92.34,158.23 92.41,158.92 92.49,159.61 92.57,160.29 92.65,160.98 92.73,161.66 92.81,162.34 92.89,163.01 92.96,163.69 93.04,164.36 93.12,165.03 93.20,165.70 93.28,166.37 93.36,167.03 93.44,167.69 93.51,168.35 93.59,169.01 93.67,169.67 93.75,170.32 93.83,170.97 93.91,171.62 93.99,172.27 94.06,172.92 94.14,173.56 94.22,174.20 94.30,174.84 94.38,175.48 94.46,176.12 94.54,176.75 94.61,177.38 94.69,178.01 94.77,178.64 94.85,179.27 94.93,179.89 95.01,180.51 95.09,181.13 95.16,181.75 95.24,182.36 95.32,182.98 95.40,183.59 95.48,184.20 95.56,184.81 95.64,185.42 95.71,186.02 95.79,186.62 95.87,187.22 95.95,187.82 96.03,188.42 96.11,189.01 96.19,189.61 96.26,190.20 96.34,190.79 96.42,191.38 96.50,191.96 96.58,192.55 96.66,193.13 96.74,193.71 96.81,194.29 96.89,194.87 96.97,195.44 97.05,196.01 97.13,196.58 97.21,197.15 97.29,197.72 97.36,198.29 97.44,198.85 97.52,199.42 97.60,199.98 97.68,200.54 97.76,201.09 97.84,201.65 97.91,202.20 97.99,202.76 98.07,203.31 98.15,203.86 98.23,204.40 98.31,204.95 98.39,205.49 98.46,206.03 98.54,206.57 98.62,207.11 98.70,207.65 98.78,208.19 98.86,208.72 98.94,209.25 99.01,209.78 99.09,210.31 99.17,210.84 99.25,211.37 99.33,211.89 99.41,212.41 99.49,212.93 99.56,213.45 99.64,213.97 99.72,214.49 99.80,215.00 99.88,215.51 99.96,216.03 100.04,216.54 100.11,217.04 100.19,217.55 100.27,218.06 100.35,218.56 100.43,219.06 100.51,219.56 100.59,220.06 100.66,220.56 100.74,221.06 100.82,221.55 100.90,222.04 100.98,222.53 101.06,223.02 101.14,223.51 101.21,224.00 101.29,224.49 101.37,224.97 101.45,225.45 101.53,225.93 101.61,226.41 101.69,226.89 101.76,227.37 101.84,227.85 101.92,228.32 102.00,228.79 102.08,229.26 102.16,229.73 102.24,230.20 102.31,230.67 102.39,231.13 102.47,231.60 102.55,232.06 102.63,232.52 102.71,232.98 102.79,233.44 102.86,233.90 102.94,234.35 103.02,234.81 103.10,235.26 103.18,235.71 103.26,236.16 103.34,236.61 103.41,237.06 103.49,237.51 103.57,237.95 103.65,238.40 103.73,238.84 103.81,239.28 103.89,239.72 103.96,240.16 104.04,240.60 104.12,241.03 104.20,241.47 104.28,241.90 104.36,242.33 104.44,242.76 104.51,243.19 104.59,243.62 104.67,244.05 104.75,244.47 104.83,244.90 104.91,245.32 104.99,245.74 105.06,246.16 105.14,246.58 105.22,247.00 105.30,247.42 105.38,247.84 105.46,248.25 105.54,248.66 105.61,249.08 105.69,249.49 106.83,255.30 107.97,260.88 109.11,266.23 110.24,271.36 111.38,276.29 112.52,281.02 113.65,285.56 114.79,289.93 115.93,294.13 117.07,298.17 118.20,302.06 119.34,305.80 120.48,309.41 121.62,312.89 122.75,316.24 123.89,319.48 125.03,322.60 126.17,325.62 127.30,328.53 128.44,331.35 129.58,334.07 130.72,336.71 131.85,339.27 132.99,341.74 134.13,344.14 135.27,346.47 136.40,348.73 137.54,350.93 138.68,353.06 139.81,355.13 140.95,357.15 142.09,359.11 143.23,361.02 144.36,362.89 145.50,364.70 146.64,366.48 147.78,368.21 148.91,369.89 150.05,371.55 151.19,373.16 152.33,374.74 153.46,376.28 154.60,377.80 155.74,379.28 156.88,380.73 158.01,382.15 159.15,383.55 160.29,384.92 161.43,386.27 162.56,387.60 163.70,388.90 164.84,390.18 165.97,391.43 167.11,392.67 168.25,393.89 169.39,395.10 170.52,396.28 171.66,397.45 172.80,398.60 173.94,399.73 175.07,400.85 176.21,401.96 177.35,403.05 178.49,404.13 179.62,405.19 180.76,406.25 181.90,407.29 183.04,408.32 184.17,409.34 185.31,410.34 186.45,411.34 187.59,412.33 188.72,413.30 189.86,414.27 191.00,415.23 192.13,416.18 193.27,417.12 194.41,418.05 195.55,418.98 196.68,419.89 197.82,420.80 198.96,421.70 200.10,422.60 201.23,423.49 202.37,424.37 203.51,425.24 204.65,426.11 205.78,426.97 206.92,427.82 208.06,428.67 209.20,429.51 210.33,430.35 211.47,431.18 212.61,432.00 213.75,432.82 214.88,433.64 216.02,434.45 217.16,435.25 218.29,436.05 219.43,436.84 220.57,437.63 221.71,438.42 222.84,439.20 223.98,439.97 225.12,440.74 226.26,441.51 227.39,442.27 228.53,443.03 229.67,443.78 230.81,444.53 231.94,445.27 233.08,446.01 234.22,446.75 235.36,447.48 236.49,448.21 237.63,448.93 238.77,449.65 239.91,450.37 241.04,451.08 242.18,451.79 243.32,452.50 244.45,453.20 245.59,453.90 246.73,454.59 247.87,455.28 249.00,455.97 250.14,456.65 251.28,457.33 252.42,458.01 253.55,458.68 254.69,459.35 255.83,460.02 256.97,460.69 258.10,461.35 259.24,462.00 260.38,462.66 261.52,463.31 262.65,463.95 263.79,464.60 264.93,465.24 266.07,465.88 267.20,466.51 268.34,467.14 269.48,467.77 270.61,468.40 271.75,469.02 272.89,469.64 274.03,470.26 275.16,470.87 276.30,471.48 277.44,472.09 278.58,472.70 279.71,473.30 280.85,473.90 281.99,474.50 283.13,475.09 284.26,475.68 285.40,476.27 286.54,476.85 287.68,477.44 288.81,478.02 289.95,478.59 291.09,479.17 292.23,479.74 293.36,480.31 294.50,480.87 295.64,481.44 296.77,482.00 297.91,482.56 299.05,483.11 300.19,483.67 301.32,484.22 302.46,484.77 303.60,485.31 304.74,485.85 305.87,486.39 307.01,486.93 308.15,487.47 309.29,488.00 310.42,488.53 311.56,489.06 312.70,489.58 313.84,490.11 314.97,490.63 316.11,491.15 317.25,491.66 318.39,492.18 319.52,492.69 320.66,493.19 321.80,493.70 322.93,494.21 324.07,494.71 325.21,495.21 326.35,495.70 327.48,496.20 328.62,496.69 329.76,497.18 330.90,497.67 332.03,498.15 333.17,498.64 334.31,499.12 335.45,499.60 336.58,500.07 337.72,500.55 338.86,501.02 340.00,501.49 341.13,501.96 342.27,502.42 343.41,502.89 344.55,503.35 345.68,503.81 346.82,504.26 347.96,504.72 349.09,505.17 350.23,505.62 351.37,506.07 352.51,506.52 353.64,506.96 354.78,507.40 355.92,507.84 357.06,508.28 358.19,508.72 359.33,509.15 360.47,509.59 361.61,510.02 362.74,510.44 363.88,510.87 365.02,511.30 366.16,511.72 367.29,512.14 368.43,512.56 369.57,512.97 370.71,513.39 371.84,513.80 372.98,514.21 374.12,514.62 375.25,515.03 376.39,515.43 377.53,515.84 378.67,516.24 379.80,516.64 380.94,517.03 382.08,517.43 383.22,517.82 384.35,518.22 385.49,518.61 386.63,519.00 387.77,519.38 388.90,519.77 390.04,520.15 391.18,520.53 392.32,520.91 393.45,521.29 394.59,521.67 395.73,522.04 396.87,522.41 398.00,522.78 399.14,523.15 400.28,523.52 401.41,523.89 402.55,524.25 403.69,524.61 404.83,524.97 405.96,525.33 407.10,525.69 408.24,526.05 409.38,526.40 410.51,526.75 411.65,527.10 412.79,527.45 413.93,527.80 415.06,528.15 416.20,528.49 417.34,528.83 418.48,529.18 419.61,529.52 420.75,529.85 421.89,530.19 423.02,530.52 424.16,530.86 425.30,531.19 426.44,531.52 427.57,531.85 428.71,532.18 429.85,532.50 430.99,532.83 432.12,533.15 433.26,533.47 434.40,533.79 435.54,534.11 436.67,534.43 437.81,534.74 438.95,535.06 440.09,535.37 441.22,535.68 442.36,535.99 443.50,536.30 444.64,536.60 445.77,536.91 446.91,537.21 448.05,537.52 449.18,537.82 450.32,538.12 451.46,538.42 452.60,538.71 453.73,539.01 454.87,539.30 456.01,539.60 457.15,539.89 458.28,540.18 459.42,540.47 460.56,540.75 461.70,541.04 462.83,541.32 463.97,541.61 465.11,541.89 466.25,542.17 467.38,542.45 468.52,542.73 469.66,543.01 470.80,543.28 471.93,543.56 473.07,543.83 474.21,544.10 475.34,544.37 476.48,544.64 477.62,544.91 478.76,545.18 479.89,545.44 481.03,545.71 482.17,545.97 483.31,546.23 484.44,546.49 485.58,546.75 486.72,547.01 487.86,547.27 488.99,547.53 490.13,547.78 491.27,548.03 492.41,548.29 493.54,548.54 494.68,548.79 495.82,549.04 496.96,549.29 498.09,549.53 499.23,549.78 500.37,550.02 501.50,550.27 502.64,550.51 503.78,550.75 504.92,550.99 506.05,551.23 507.19,551.47 508.33,551.70 509.47,551.94 510.60,552.17 511.74,552.41 512.88,552.64 514.02,552.87 515.15,553.10 516.29,553.33 517.43,553.56 518.57,553.78 519.70,554.01 520.84,554.23 521.98,554.46 523.12,554.68 524.25,554.90 525.39,555.12 526.53,555.34 527.66,555.56 528.80,555.78 529.94,556.00 531.08,556.21 532.21,556.43 533.35,556.64 534.49,556.85 535.63,557.07 536.76,557.28 537.90,557.49 539.04,557.69 540.18,557.90 541.31,558.11 542.45,558.32 543.59,558.52 544.73,558.72 545.86,558.93 547.00,559.13 548.14,559.33 549.28,559.53 550.41,559.73 551.55,559.93 552.69,560.13 553.82,560.32 554.96,560.52 556.10,560.71 557.24,560.91 558.37,561.10 559.51,561.29 560.65,561.48 561.79,561.68 562.92,561.86 564.06,562.05 565.20,562.24 566.34,562.43 567.47,562.61 568.61,562.80 569.75,562.98 570.89,563.17 572.02,563.35 573.16,563.53 574.30,563.71 575.44,563.89 576.57,564.07 577.71,564.25 578.85,564.43 579.98,564.60 581.12,564.78 582.26,564.96 583.40,565.13 584.53,565.30 585.67,565.48 586.81,565.65 587.95,565.82 589.08,565.99 590.22,566.16 591.36,566.33 592.50,566.50 593.63,566.66 594.77,566.83 595.91,566.99 597.05,567.16 598.18,567.32 599.32,567.49 600.46,567.65 601.60,567.81 602.73,567.97 603.87,568.13 605.01,568.29 606.14,568.45 607.28,568.61 608.42,568.77 609.56,568.92 610.69,569.08 611.83,569.24 612.97,569.39 614.11,569.54 615.24,569.70 616.38,569.85 617.52,570.00 618.66,570.15 619.79,570.30 620.93,570.45 622.07,570.60 623.21,570.75 624.34,570.90 625.48,571.04 626.62,571.19 627.76,571.34 628.89,571.48 630.03,571.62 631.17,571.77 632.30,571.91 633.44,572.05 634.58,572.19 635.72,572.33 636.85,572.48 637.99,572.61 639.13,572.75 640.27,572.89 641.40,573.03 642.54,573.17 643.68,573.30 644.82,573.44 645.95,573.57 647.09,573.71 648.23,573.84 649.37,573.98 650.50,574.11 651.64,574.24 652.78,574.37 653.92,574.50 655.05,574.63 656.19,574.76 657.33,574.89 658.46,575.02 659.60,575.15 660.74,575.27 661.88,575.40 663.01,575.53 664.15,575.65 665.29,575.78 666.43,575.90 667.56,576.03 668.70,576.15 669.84,576.27 670.98,576.39 672.11,576.51 673.25,576.64 674.39,576.76 675.53,576.88 676.66,576.99 677.80,577.11 678.94,577.23 680.08,577.35 681.21,577.47 682.35,577.58 683.49,577.70 684.62,577.81 685.76,577.93 686.90,578.04 688.04,578.16 689.17,578.27 690.31,578.38 691.45,578.50 692.59,578.61 693.72,578.72 694.86,578.83 696.00,578.94 697.14,579.05 698.27,579.16 699.41,579.27 700.55,579.38 701.69,579.48 702.82,579.59 703.96,579.70 705.10,579.80 706.24,579.91 707.37,580.01 708.51,580.12 709.65,580.22 710.78,580.33 711.92,580.43 713.06,580.53 714.20,580.64 715.33,580.74 716.47,580.84 717.61,580.94 718.75,581.04 719.88,581.14 721.02,581.24 722.16,581.34 723.30,581.44 724.43,581.53 725.57,581.63 726.71,581.73 727.85,581.83 728.98,581.92 730.12,582.02 731.26,582.11 732.40,582.21 733.53,582.30 734.67,582.40 735.81,582.49 736.94,582.58 738.08,582.68 739.22,582.77 740.36,582.86 741.49,582.95 742.63,583.04 743.77,583.14 744.91,583.23 746.04,583.32 747.18,583.41 748.32,583.49 749.46,583.58 750.59,583.67 751.73,583.76 752.87,583.85 754.01,583.93 755.14,584.02 756.28,584.11 757.42,584.19 758.56,584.28 759.69,584.36 760.83,584.45 761.97,584.53 763.10,584.62 764.24,584.70 765.38,584.78 766.52,584.86 767.65,584.95 768.79,585.03 769.93,585.11 771.07,585.19 772.20,585.27 773.34,585.35 774.48,585.43 775.62,585.51 776.75,585.59 777.89,585.67 779.03,585.75 780.17,585.83 781.30,585.90 782.44,585.98 783.58,586.06 784.72,586.14 785.85,586.21 786.99,586.29" stroke="#f2f222" stroke-width="2.8" fill="none" stroke-dasharray="8.5 8.245" stroke-dashoffset="3.050"/>
<polyline points="82.20,14.52 82.28,16.34 82.36,18.15 82.44,19.94 82.51,21.71 82.59,23.48 82.67,25.23 82.75,26.97 82.83,28.70 82.91,30.41 82.99,32.11 83.06,33.80 83.14,35.48 83.22,37.14 83.30,38.80 83.38,40.44 83.46,42.07 83.54,43.68 83.61,45.29 83.69,46.88 83.77,48.46 83.85,50.04 83.93,51.60 84.01,53.14 84.09,54.68 84.16,56.21 84.24,57.72 84.32,59.23 84.40,60.72 84.48,62.21 84.56,63.68 84.64,65.14 84.71,66.60 84.79,68.04 84.87,69.47 84.95,70.89 85.03,72.30 85.11,73.71 85.19,75.10 85.26,76.48 85.34,77.85 85.42,79.22 85.50,80.57 85.58,81.91 85.66,83.25 85.74,84.57 85.81,85.89 85.89,87.20 85.97,88.50 86.05,89.78 86.13,91.07 86.21,92.34 86.29,93.60 86.36,94.85 86.44,96.10 86.52,97.34 86.60,98.56 86.68,99.78 86.76,101.00 86.84,102.20 86.91,103.40 86.99,104.58 87.07,105.76 87.15,106.93 87.23,108.10 87.31,109.25 87.39,110.40 87.46,111.54 87.54,112.67 87.62,113.80 87.70,114.91 87.78,116.02 87.86,117.13 87.94,118.22 88.01,119.31 88.09,120.39 88.17,121.46 88.25,122.53 88.33,123.59 88.41,124.64 88.49,125.69 88.56,126.72 88.64,127.76 88.72,128.78 88.80,129.80 88.88,130.81 88.96,131.82 89.04,132.82 89.11,133.81 89.19,134.79 89.27,135.77 89.35,136.75 89.43,137.71 89.51,138.67 89.59,139.63 89.66,140.57 89.74,141.52 89.82,142.45 89.90,143.38 89.98,144.31 90.06,145.23 90.14,146.14 90.21,147.05 90.29,147.95 90.37,148.84 90.45,149.73 90.53,150.62 90.61,151.49 90.69,152.37 90.76,153.24 90.84,154.10 90.92,154.96 91.00,155.81 91.08,156.65 91.16,157.49 91.24,158.33 91.31,159.16 91.39,159.99 91.47,160.81 91.55,161.62 91.63,162.43 91.71,163.24 91.79,164.04 91.86,164.84 91.94,165.63 92.02,166.42 92.10,167.20 92.18,167.97 92.26,168.75 92.34,169.51 92.41,170.28 92.49,171.04 92.57,171.79 92.65,172.54 92.73,173.29 92.81,174.03 92.89,174.76 92.96,175.50 93.04,176.22 93.12,176.95 93.20,177.67 93.28,178.38 93.36,179.09 93.44,179.80 93.51,180.50 93.59,181.20 93.67,181.90 93.75,182.59 93.83,183.27 93.91,183.96 93.99,184.64 94.06,185.31 94.14,185.98 94.22,186.65 94.30,187.31 94.38,187.97 94.46,188.63 94.54,189.28 94.61,189.93 94.69,190.58 94.77,191.22 94.85,191.86 94.93,192.49 95.01,193.12 95.09,193.75 95.16,194.38 95.24,195.00 95.32,195.61 95.40,196.23 95.48,196.84 95.56,197.45 95.64,198.05 95.71,198.65 95.79,199.25 95.87,199.84 95.95,200.44 96.03,201.02 96.11,201.61 96.19,202.19 96.26,202.77 96.34,203.35 96.42,203.92 96.50,204.49 96.58,205.05 96.66,205.62 96.74,206.18 96.81,206.74 96.89,207.29 96.97,207.84 97.05,208.39 97.13,208.94 97.21,209.48 97.29,210.02 97.36,210.56 97.44,211.10 97.52,211.63 97.60,212.16 97.68,212.69 97.76,213.21 97.84,213.74 97.91,214.25 97.99,214.77 98.07,215.29 98.15,215.80 98.23,216.31 98.31,216.81 98.39,217.32 98.46,217.82 98.54,218.32 98.62,218.82 98.70,219.31 98.78,219.80 98.86,220.29 98.94,220.78 99.01,221.26 99.09,221.75 99.17,222.23 99.25,222.71 99.33,223.18 99.41,223.66 99.49,224.13 99.56,224.60 99.64,225.06 99.72,225.53 99.80,225.99 99.88,226.45 99.96,226.91 100.04,227.36 100.11,227.82 100.19,228.27 100.27,228.72 100.35,229.17 100.43,229.61 100.51,230.06 100.59,230.50 100.66,230.94 100.74,231.38 100.82,231.81 100.90,232.25 100.98,232.68 101.06,233.11 101.14,233.54 101.21,233.96 101.29,234.39 101.37,234.81 101.45,235.23 101.53,235.65 101.61,236.07 101.69,236.48 101.76,236.90 101.84,237.31 101.92,237.72 102.00,238.13 102.08,238.53 102.16,238.94 102.24,239.34 102.31,239.74 102.39,240.14 102.47,240.54 102.55,240.94 102.63,241.33 102.71,241.73 102.79,242.12 102.86,242.51 102.94,242.90 103.02,243.28 103.10,243.67 103.18,244.05 103.26,244.43 103.34,244.81 103.41,245.19 103.49,245.57 103.57,245.95 103.65,246.32 103.73,246.69 103.81,247.06 103.89,247.43 103.96,247.80 104.04,248.17 104.12,248.54 104.20,248.90 104.28,249.26 104.36,249.63 104.44,249.99 104.51,250.34 104.59,250.70 104.67,251.06 104.75,251.41 104.83,251.77 104.91,252.12 104.99,252.47 105.06,252.82 105.14,253.17 105.22,253.51 105.30,253.86 105.38,254.20 105.46,254.55 105.54,254.89 105.61,255.23 105.69,255.57 106.83,260.34 107.97,264.89 109.11,269.23 110.24,273.37 111.38,277.35 112.52,281.16 113.65,284.83 114.79,288.38 115.93,291.80 117.07,295.11 118.20,298.32 119.34,301.43 120.48,304.46 121.62,307.41 122.75,310.28 123.89,313.08 125.03,315.81 126.17,318.48 127.30,321.09 128.44,323.65 129.58,326.15 130.72,328.60 131.85,331.01 132.99,333.37 134.13,335.69 135.27,337.96 136.40,340.19 137.54,342.39 138.68,344.55 139.81,346.67 140.95,348.75 142.09,350.81 143.23,352.83 144.36,354.82 145.50,356.77 146.64,358.70 147.78,360.60 148.91,362.47 150.05,364.31 151.19,366.12 152.33,367.91 153.46,369.67 154.60,371.41 155.74,373.12 156.88,374.81 158.01,376.48 159.15,378.12 160.29,379.74 161.43,381.33 162.56,382.91 163.70,384.46 164.84,385.99 165.97,387.50 167.11,389.00 168.25,390.47 169.39,391.92 170.52,393.35 171.66,394.77 172.80,396.16 173.94,397.54 175.07,398.90 176.21,400.25 177.35,401.57 178.49,402.88 179.62,404.18 180.76,405.45 181.90,406.72 183.04,407.96 184.17,409.19 185.31,410.41 186.45,411.61 187.59,412.79 188.72,413.97 189.86,415.13 191.00,416.27 192.13,417.40 193.27,418.52 194.41,419.62 195.55,420.72 196.68,421.79 197.82,422.86 198.96,423.92 200.10,424.96 201.23,425.99 202.37,427.01 203.51,428.02 204.65,429.02 205.78,430.00 206.92,430.98 208.06,431.94 209.20,432.90 210.33,433.84 211.47,434.78 212.61,435.70 213.75,436.62 214.88,437.52 216.02,438.42 217.16,439.31 218.29,440.18 219.43,441.05 220.57,441.91 221.71,442.76 222.84,443.61 223.98,444.44 225.12,445.27 226.26,446.09 227.39,446.90 228.53,447.70 229.67,448.49 230.81,449.28 231.94,450.06 233.08,450.83 234.22,451.60 235.36,452.36 236.49,453.11 237.63,453.85 238.77,454.59 239.91,455.32 241.04,456.05 242.18,456.76 243.32,457.48 244.45,458.18 245.59,458.88 246.73,459.57 247.87,460.26 249.00,460.94 250.14,461.62 251.28,462.29 252.42,462.95 253.55,463.61 254.69,464.27 255.83,464.92 256.97,465.56 258.10,466.20 259.24,466.83 260.38,467.46 261.52,468.08 262.65,468.70 263.79,469.31 264.93,469.92 266.07,470.53 267.20,471.13 268.34,471.72 269.48,472.31 270.61,472.90 271.75,473.48 272.89,474.06 274.03,474.63 275.16,475.20 276.30,475.77 277.44,476.33 278.58,476.88 279.71,477.44 280.85,477.99 281.99,478.53 283.13,479.08 284.26,479.62 285.40,480.15 286.54,480.68 287.68,481.21 288.81,481.73 289.95,482.26 291.09,482.77 292.23,483.29 293.36,483.80 294.50,484.31 295.64,484.81 296.77,485.31 297.91,485.81 299.05,486.31 300.19,486.80 301.32,487.29 302.46,487.77 303.60,488.26 304.74,488.74 305.87,489.22 307.01,489.69 308.15,490.16 309.29,490.63 310.42,491.10 311.56,491.56 312.70,492.03 313.84,492.48 314.97,492.94 316.11,493.40 317.25,493.85 318.39,494.30 319.52,494.74 320.66,495.19 321.80,495.63 322.93,496.07 324.07,496.51 325.21,496.94 326.35,497.37 327.48,497.80 328.62,498.23 329.76,498.66 330.90,499.08 332.03,499.50 333.17,499.92 334.31,500.34 335.45,500.76 336.58,501.17 337.72,501.58 338.86,501.99 340.00,502.40 341.13,502.80 342.27,503.21 343.41,503.61 344.55,504.01 345.68,504.41 346.82,504.80 347.96,505.20 349.09,505.59 350.23,505.98 351.37,506.37 352.51,506.76 353.64,507.14 354.78,507.52 355.92,507.91 357.06,508.29 358.19,508.67 359.33,509.04 360.47,509.42 361.61,509.79 362.74,510.16 363.88,510.53 365.02,510.90 366.16,511.27 367.29,511.64 368.43,512.00 369.57,512.36 370.71,512.73 371.84,513.09 372.98,513.44 374.12,513.80 375.25,514.16 376.39,514.51 377.53,514.86 378.67,515.22 379.80,515.57 380.94,515.91 382.08,516.26 383.22,516.61 384.35,516.95 385.49,517.29 386.63,517.64 387.77,517.98 388.90,518.32 390.04,518.65 391.18,518.99 392.32,519.33 393.45,519.66 394.59,519.99 395.73,520.33 396.87,520.66 398.00,520.99 399.14,521.31 400.28,521.64 401.41,521.97 402.55,522.29 403.69,522.61 404.83,522.94 405.96,523.26 407.10,523.58 408.24,523.90 409.38,524.21 410.51,524.53 411.65,524.84 412.79,525.16 413.93,525.47 415.06,525.78 416.20,526.09 417.34,526.40 418.48,526.71 419.61,527.02 420.75,527.33 421.89,527.63 423.02,527.94 424.16,528.24 425.30,528.54 426.44,528.85 427.57,529.15 428.71,529.45 429.85,529.74 430.99,530.04 432.12,530.34 433.26,530.63 434.40,530.93 435.54,531.22 436.67,531.52 437.81,531.81 438.95,532.10 440.09,532.39 441.22,532.68 442.36,532.96 443.50,533.25 444.64,533.54 445.77,533.82 446.91,534.11 448.05,534.39 449.18,534.67 450.32,534.95 451.46,535.23 452.60,535.51 453.73,535.79 454.87,536.07 456.01,536.35 457.15,536.62 458.28,536.90 459.42,537.17 460.56,537.45 461.70,537.72 462.83,537.99 463.97,538.26 465.11,538.53 466.25,538.80 467.38,539.07 468.52,539.34 469.66,539.61 470.80,539.87 471.93,540.14 473.07,540.40 474.21,540.67 475.34,540.93 476.48,541.19 477.62,541.45 478.76,541.71 479.89,541.97 481.03,542.23 482.17,542.49 483.31,542.75 484.44,543.00 485.58,543.26 486.72,543.52 487.86,543.77 488.99,544.02 490.13,544.28 491.27,544.53 492.41,544.78 493.54,545.03 494.68,545.28 495.82,545.53 496.96,545.78 498.09,546.03 499.23,546.27 500.37,546.52 501.50,546.76 502.64,547.01 503.78,547.25 504.92,547.50 506.05,547.74 507.19,547.98 508.33,548.22 509.47,548.46 510.60,548.70 511.74,548.94 512.88,549.18 514.02,549.42 515.15,549.65 516.29,549.89 517.43,550.13 518.57,550.36 519.70,550.60 520.84,550.83 521.98,551.06 523.12,551.30 524.25,551.53 525.39,551.76 526.53,551.99 527.66,552.22 528.80,552.45 529.94,552.68 531.08,552.90 532.21,553.13 533.35,553.36 534.49,553.58 535.63,553.81 536.76,554.03 537.90,554.26 539.04,554.48 540.18,554.70 541.31,554.92 542.45,555.14 543.59,555.36 544.73,555.58 545.86,555.80 547.00,556.02 548.14,556.24 549.28,556.46 550.41,556.68 551.55,556.89 552.69,557.11 553.82,557.32 554.96,557.54 556.10,557.75 557.24,557.96 558.37,558.18 559.51,558.39 560.65,558.60 561.79,558.81 562.92,559.02 564.06,559.23 565.20,559.44 566.34,559.65 567.47,559.86 568.61,560.07 569.75,560.27 570.89,560.48 572.02,560.68 573.16,560.89 574.30,561.09 575.44,561.30 576.57,561.50 577.71,561.70 578.85,561.91 579.98,562.11 581.12,562.31 582.26,562.51 583.40,562.71 584.53,562.91 585.67,563.11 586.81,563.31 587.95,563.50 589.08,563.70 590.22,563.90 591.36,564.09 592.50,564.29 593.63,564.49 594.77,564.68 595.91,564.87 597.05,565.07 598.18,565.26 599.32,565.45 600.46,565.65 601.60,565.84 602.73,566.03 603.87,566.22 605.01,566.41 606.14,566.60 607.28,566.79 608.42,566.97 609.56,567.16 610.69,567.35 611.83,567.54 612.97,567.72 614.11,567.91 615.24,568.09 616.38,568.28 617.52,568.46 618.66,568.64 619.79,568.83 620.93,569.01 622.07,569.19 623.21,569.37 624.34,569.56 625.48,569.74 626.62,569.92 627.76,570.10 628.89,570.27 630.03,570.45 631.17,570.63 632.30,570.81 633.44,570.99 634.58,571.16 635.72,571.34 636.85,571.51 637.99,571.69 639.13,571.86 640.27,572.04 641.40,572.21 642.54,572.39 643.68,572.56 644.82,572.73 645.95,572.90 647.09,573.07 648.23,573.25 649.37,573.42 650.50,573.59 651.64,573.76 652.78,573.93 653.92,574.09 655.05,574.26 656.19,574.43 657.33,574.60 658.46,574.76 659.60,574.93 660.74,575.10 661.88,575.26 663.01,575.43 664.15,575.59 665.29,575.76 666.43,575.92 667.56,576.08 668.70,576.25 669.84,576.41 670.98,576.57 672.11,576.73 673.25,576.89 674.39,577.05 675.53,577.21 676.66,577.37 677.80,577.53 678.94,577.69 680.08,577.85 681.21,578.01 682.35,578.16 683.49,578.32 684.62,578.48 685.76,578.63 686.90,578.79 688.04,578.95 689.17,579.10 690.31,579.25 691.45,579.41 692.59,579.56 693.72,579.72 694.86,579.87 696.00,580.02 697.14,580.17 698.27,580.33 699.41,580.48 700.55,580.63 701.69,580.78 702.82,580.93 703.96,581.08 705.10,581.23 706.24,581.38 707.37,581.52 708.51,581.67 709.65,581.82 710.78,581.97 711.92,582.11 713.06,582.26 714.20,582.41 715.33,582.55 716.47,582.70 717.61,582.84 718.75,582.99 719.88,583.13 721.02,583.27 722.16,583.42 723.30,583.56 724.43,583.70 725.57,583.84 726.71,583.99 727.85,584.13 728.98,584.27 730.12,584.41 731.26,584.55 732.40,584.69 733.53,584.83 734.67,584.97 735.81,585.10 736.94,585.24 738.08,585.38 739.22,585.52 740.36,585.66 741.49,585.79 742.63,585.93 743.77,586.06 744.91,586.20 746.04,586.34 747.18,586.47 748.32,586.61 749.46,586.74 750.59,586.87 751.73,587.01 752.87,587.14 754.01,587.27 755.14,587.40 756.28,587.54 757.42,587.67 758.56,587.80 759.69,587.93 760.83,588.06 761.97,588.19 763.10,588.32 764.24,588.45 765.38,588.58 766.52,588.71 767.65,588.84 768.79,588.97 769.93,589.09 771.07,589.22 772.20,589.35 773.34,589.47 774.48,589.60 775.62,589.73 776.75,589.85 777.89,589.98 779.03,590.10 780.17,590.23 781.30,590.35 782.44,590.48 783.58,590.60 784.72,590.72 785.85,590.85 786.99,590.97" stroke="#d21616" stroke-width="2.8" fill="none"/>
<g font-size="19.4" fill="#000"><rect x="585.1" y="25.1" width="171.6" height="112.1" fill="#fff" stroke="#262626" stroke-width="1.2"/><circle cx="623.3" cy="41.7" r="6.0" fill="#000"/><path d="M591.2 68.6H655.1" stroke="#1c7c1c" stroke-width="2.8"/><path d="M590.6 96H655.1" stroke="#f2f222" stroke-width="2.8" stroke-dasharray="8.5 8.07"/><path d="M591.2 122.1H655.1" stroke="#d21616" stroke-width="2.8"/><text x="661.3" y="49.3" stroke="#000" stroke-width="0.5">Test data</text><text x="661.3" y="76.1" stroke="#000" stroke-width="0.5">Prony 1st</text><text x="661.3" y="103.0" stroke="#000" stroke-width="0.5">Prony 2nd</text><text x="661.3" y="129.6" stroke="#000" stroke-width="0.5">Prony 3rd</text></g>
</g>
</svg>
</body></html>
